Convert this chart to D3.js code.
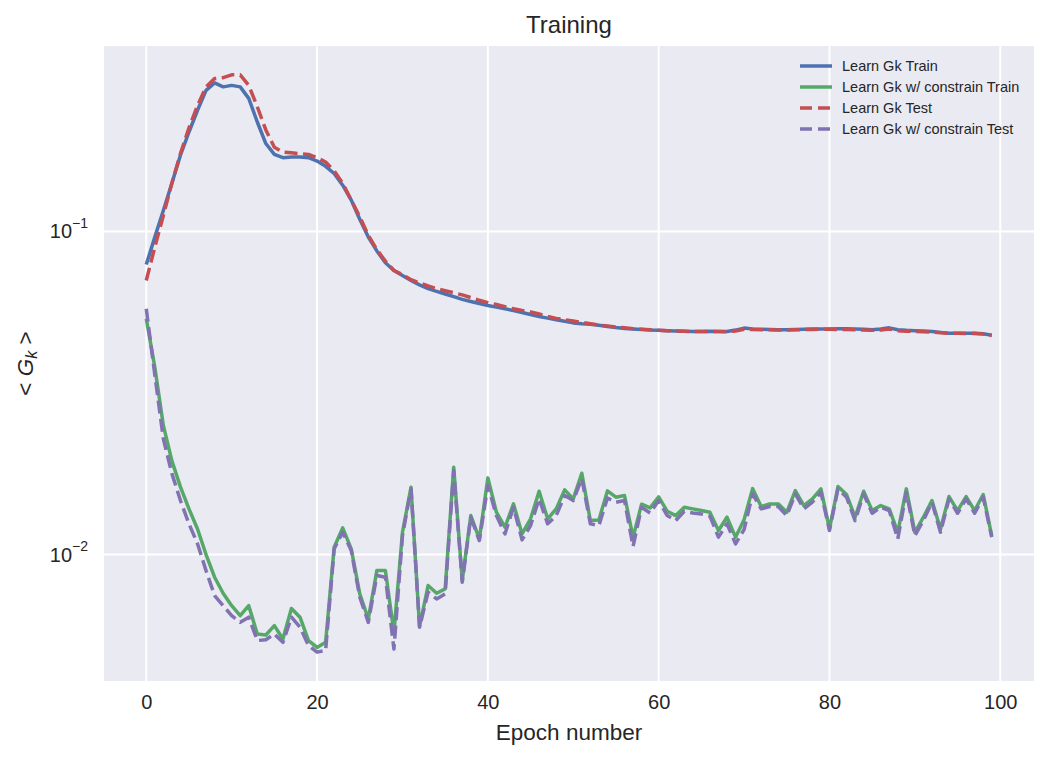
<!DOCTYPE html>
<html><head><meta charset="utf-8">
<script src="https://cdn.jsdelivr.net/npm/d3@7"></script>
<style>
body{margin:0;background:#fff;}
text{font-family:"Liberation Sans",Arial,sans-serif;fill:#262626;}
</style></head>
<body><svg id="chart" width="1049" height="759"></svg>
<script>
const seriesNames = ["Learn Gk Train","Learn Gk w/ constrain Train","Learn Gk Test","Learn Gk w/ constrain Test"];
const xTicks = [0,20,40,60,80,100];
const yTicks = [0.01,0.1];
const yTickExp = ["\u22122","\u22121"];

const gkTrain = [0.079,0.096,0.116,0.141,0.172,0.203,0.237,0.273,0.288,0.280,
0.283,0.280,0.258,0.218,0.187,0.173,0.169,0.170,0.170,0.169,
0.165,0.159,0.151,0.139,0.125,0.109,0.096,0.087,0.080,0.0757,
0.0730,0.0705,0.0683,0.0665,0.0652,0.0640,0.0628,0.0616,0.0607,0.0598,
0.0590,0.0583,0.0576,0.0569,0.0561,0.0553,0.0545,0.0539,0.0533,0.0527,
0.0521,0.0518,0.0516,0.0512,0.0508,0.0504,0.0501,0.0499,0.0497,0.0495,
0.0494,0.0493,0.0492,0.0491,0.0490,0.0490,0.0491,0.0490,0.0490,0.0495,
0.0502,0.0499,0.0498,0.0497,0.0496,0.0496,0.0497,0.0498,0.0499,0.0499,
0.0499,0.0500,0.0500,0.0499,0.0498,0.0496,0.0499,0.0503,0.0496,0.0494,
0.0493,0.0492,0.0490,0.0487,0.0484,0.0484,0.0484,0.0484,0.0482,0.0477];

const gkTest = [0.0705,0.0894,0.112,0.141,0.174,0.209,0.245,0.280,0.297,0.299,
0.305,0.305,0.283,0.243,0.206,0.182,0.176,0.175,0.174,0.173,
0.169,0.164,0.154,0.141,0.125,0.111,0.0972,0.0878,0.0809,0.0757,
0.0735,0.0709,0.0693,0.0678,0.0665,0.0655,0.0646,0.0636,0.0624,0.0612,
0.0602,0.0594,0.0585,0.0576,0.0569,0.0563,0.0555,0.0546,0.0538,0.0533,
0.0528,0.0523,0.0518,0.0513,0.0510,0.0506,0.0503,0.0500,0.0498,0.0496,
0.0494,0.0493,0.0492,0.0491,0.0490,0.0490,0.0490,0.0490,0.0489,0.0492,
0.0498,0.0497,0.0496,0.0496,0.0495,0.0495,0.0496,0.0497,0.0497,0.0498,
0.0498,0.0497,0.0497,0.0496,0.0495,0.0494,0.0495,0.0499,0.0493,0.0491,
0.0490,0.0489,0.0488,0.0486,0.0484,0.0484,0.0483,0.0483,0.0481,0.0476];

const gkConTrain = [0.0537,0.0380,0.0251,0.0195,0.0162,0.01385,0.0120,0.0100,0.00851,0.00759,
0.00695,0.00647,0.00695,0.00568,0.00564,0.00603,0.00548,0.00681,0.00640,0.00542,
0.00516,0.00535,0.01053,0.01209,0.01041,0.00756,0.00632,0.00892,0.00892,0.00574,
0.01172,0.01616,0.00598,0.00802,0.00759,0.00783,0.01863,0.00831,0.01320,0.01118,
0.01727,0.01352,0.01215,0.01435,0.01159,0.01290,0.01570,0.01290,0.01385,0.01586,
0.01487,0.01785,0.01274,0.01280,0.01574,0.01505,0.01523,0.01130,0.01432,0.01395,
0.01508,0.01362,0.01320,0.01401,0.01385,0.01368,0.01352,0.01187,0.01305,0.01132,
0.01282,0.01600,0.01408,0.01435,0.01435,0.01352,0.01578,0.01418,0.01487,0.01597,
0.01200,0.01624,0.01534,0.01305,0.01570,0.01368,0.01418,0.01385,0.01172,0.01597,
0.01172,0.01305,0.01469,0.01200,0.01512,0.01368,0.01512,0.01368,0.01534,0.01145];

const gkConTest = [0.0576,0.0360,0.0228,0.0178,0.0147,0.01245,0.0108,0.00892,0.00747,0.00695,
0.00647,0.00617,0.00640,0.00542,0.00545,0.00568,0.00535,0.00640,0.00596,0.00523,
0.00499,0.00505,0.01041,0.01172,0.01029,0.00738,0.00617,0.00861,0.00851,0.00510,
0.01145,0.01597,0.00596,0.00765,0.00729,0.00756,0.01820,0.00821,0.01305,0.01105,
0.01636,0.01320,0.01159,0.01401,0.01110,0.01230,0.01487,0.01245,0.01320,0.01523,
0.01469,0.01720,0.01245,0.01230,0.01496,0.01452,0.01469,0.01060,0.01401,0.01344,
0.01470,0.01320,0.01274,0.01360,0.01344,0.01336,0.01315,0.01132,0.01245,0.01079,
0.01195,0.01541,0.01385,0.01408,0.01408,0.01320,0.01541,0.01385,0.01452,0.01559,
0.01187,0.01597,0.01505,0.01274,0.01541,0.01342,0.01401,0.01368,0.01118,0.01559,
0.01145,0.01274,0.01452,0.01172,0.01487,0.01342,0.01487,0.01342,0.01505,0.01132];

const colors = ["#4C72B0","#55A868","#C44E52","#8172B2"];
const dashed = [false,false,true,true];
const data = [gkTrain, gkConTrain, gkTest, gkConTest];

const W = 1049, H = 759;
const m = {l:104, t:46, r:15, b:78};
const pw = W - m.l - m.r, ph = H - m.t - m.b;
const svg = d3.select("#chart");
const g = svg.append("g").attr("transform",`translate(${m.l},${m.t})`);

const n = gkTrain.length;
const xPad = (n-1)*0.05;
const x = d3.scaleLinear().domain([-xPad, (n-1)+xPad]).range([0,pw]);
const all = data.flat();
const lmin = Math.log10(d3.min(all)), lmax = Math.log10(d3.max(all));
const lpad = (lmax-lmin)*0.05;
const y = d3.scaleLog().domain([Math.pow(10,lmin-lpad), Math.pow(10,lmax+lpad)]).range([ph,0]);

g.append("rect").attr("width",pw).attr("height",ph).attr("fill","#EAEAF2");

// grid
g.selectAll(".vg").data(xTicks).enter().append("line")
 .attr("x1",d=>x(d)).attr("x2",d=>x(d)).attr("y1",0).attr("y2",ph)
 .attr("stroke","#fff").attr("stroke-width",2);
g.selectAll(".hg").data(yTicks).enter().append("line")
 .attr("x1",0).attr("x2",pw).attr("y1",d=>y(d)).attr("y2",d=>y(d))
 .attr("stroke","#fff").attr("stroke-width",2);

// x axis
const xAxis = d3.axisBottom(x).tickValues(xTicks).tickSize(0).tickPadding(14);
const xa = g.append("g").attr("transform",`translate(0,${ph})`).call(xAxis);
xa.select(".domain").remove();
xa.selectAll("text").attr("font-size",20).attr("fill","#262626")
  .style("font-family",'"Liberation Sans",Arial,sans-serif');

// y axis (custom labels with superscript)
const ya = g.append("g");
yTicks.forEach((t,i)=>{
  const tx = ya.append("text").attr("x",-16).attr("y",y(t)).attr("dy","0.35em")
    .attr("text-anchor","end").attr("font-size",20);
  tx.append("tspan").text("10");
  tx.append("tspan").attr("font-size",14).attr("dy","-0.75em").text(yTickExp[i]);
});

// lines
const line = d3.line().x((d,i)=>x(i)).y(d=>y(d));
data.forEach((s,k)=>{
  g.append("path").datum(s).attr("d",line).attr("fill","none")
   .attr("stroke",colors[k]).attr("stroke-width",3.5)
   .attr("stroke-dasharray",dashed[k]?"13,5.5":null)
   .attr("stroke-linejoin","round");
});

// legend
const legendOrder = [0,1,2,3];
const lg = svg.append("g");
legendOrder.forEach((k,i)=>{
  const yy = 66 + i*21;
  lg.append("line").attr("x1",800).attr("x2",832).attr("y1",yy).attr("y2",yy)
    .attr("stroke",colors[k]).attr("stroke-width",3.5)
    .attr("stroke-dasharray",dashed[k]?"12,6":null);
  lg.append("text").attr("x",842).attr("y",yy).attr("dy","0.35em")
    .attr("font-size",14.5).text(seriesNames[k]);
});

// title & labels
svg.append("text").attr("x",m.l+pw/2).attr("y",25).attr("dy","0.35em")
  .attr("text-anchor","middle").attr("font-size",24).text("Training");
svg.append("text").attr("x",m.l+pw/2).attr("y",732).attr("dy","0.35em")
  .attr("text-anchor","middle").attr("font-size",22.5).text("Epoch number");
const yl = svg.append("text").attr("transform",`translate(25,${m.t+ph/2}) rotate(-90)`)
  .attr("text-anchor","middle").attr("dy","0.35em").attr("font-size",22.5);
yl.append("tspan").text("< ");
yl.append("tspan").attr("font-style","italic").text("G");
yl.append("tspan").attr("font-style","italic").attr("font-size",16).attr("dy","0.25em").text("k");
yl.append("tspan").attr("dy","-0.18em").text(" >");
</script>
</body></html>
